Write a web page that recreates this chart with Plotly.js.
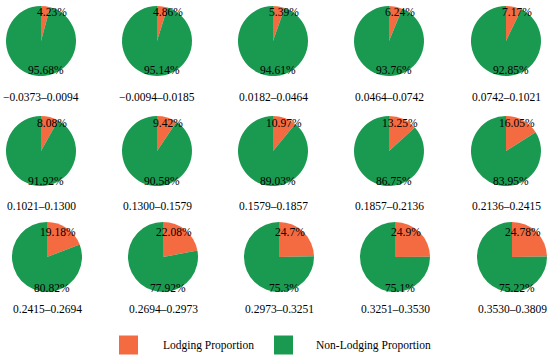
<!DOCTYPE html>
<html>
<head>
<meta charset="utf-8">
<script src="https://cdn.plot.ly/plotly-3.0.1.min.js"></script>
<style>html,body{margin:0;padding:0;background:#fff}#chart{width:550px;height:358px}</style>
</head>
<body>
<div id="chart"></div>
<script>
// ---- data ----
const rangeLabels = [
  "\u22120.0373\u20130.0094", "\u22120.0094\u20130.0185", "0.0182\u20130.0464", "0.0464\u20130.0742", "0.0742\u20130.1021",
  "0.1021\u20130.1300", "0.1300\u20130.1579", "0.1579\u20130.1857", "0.1857\u20130.2136", "0.2136\u20130.2415",
  "0.2415\u20130.2694", "0.2694\u20130.2973", "0.2973\u20130.3251", "0.3251\u20130.3530", "0.3530\u20130.3809"
];
const lodging = [4.23, 4.86, 5.39, 6.24, 7.17, 8.08, 9.42, 10.97, 13.25, 16.05, 19.18, 22.08, 24.7, 24.9, 24.78];
const nonLodging = [95.68, 95.14, 94.61, 93.76, 92.85, 91.92, 90.58, 89.03, 86.75, 83.95, 80.82, 77.92, 75.3, 75.1, 75.22];
const seriesNames = ["Lodging Proportion", "Non-Lodging Proportion"];

// ---- styles / layout constants ----
const W = 550, H = 358, R = 35;
const colors = ["#F46B42", "#1A9A50"];
const font = "Liberation Serif, Times New Roman, serif";
const fs = 11.5;
const rowCY = [41, 151, 257];
const colCX = [[41, 157, 273, 389, 506], [41, 157, 273, 389, 506], [47, 163, 279, 395, 512]];
const labelY = [97, 206, 309];
const topOff = [-29, -28, -25], botOff = [29, 30, 31];

const px = x => x / W;
const py = y => 1 - y / H;

const traces = [];
const annotations = [];
for (let i = 0; i < lodging.length; i++) {
  const r = Math.floor(i / 5), c = i % 5;
  const cx = colCX[r][c], cy = rowCY[r];
  traces.push({
    type: "pie",
    values: [lodging[i], nonLodging[i]],
    labels: seriesNames,
    marker: {colors: colors, line: {width: 0}},
    sort: false,
    direction: "clockwise",
    rotation: 0,
    textinfo: "none",
    hoverinfo: "label+percent",
    showlegend: false,
    domain: {x: [px(cx - R), px(cx + R)], y: [py(cy + R), py(cy - R)]}
  });
  annotations.push({
    x: px(cx + 11), y: py(cy + topOff[r]), xref: "paper", yref: "paper",
    text: lodging[i] + "%", showarrow: false, xanchor: "center", yanchor: "middle",
    font: {family: font, size: fs, color: "#000"}
  });
  annotations.push({
    x: px(cx + 5), y: py(cy + botOff[r]), xref: "paper", yref: "paper",
    text: nonLodging[i] + "%", showarrow: false, xanchor: "center", yanchor: "middle",
    font: {family: font, size: fs, color: "#000"}
  });
  annotations.push({
    x: px(cx), y: py(labelY[r]), xref: "paper", yref: "paper",
    text: rangeLabels[i], showarrow: false, xanchor: "center", yanchor: "middle",
    font: {family: font, size: fs, color: "#000"}
  });
}

// legend drawn with shapes + text
const legX = [119, 274], legTextX = [161, 314], legY = 345, sq = 19;
const shapes = [];
seriesNames.forEach((name, k) => {
  shapes.push({
    type: "rect", xref: "paper", yref: "paper",
    x0: px(legX[k]), x1: px(legX[k] + sq), y0: py(legY + sq / 2), y1: py(legY - sq / 2),
    fillcolor: colors[k], line: {width: 0}
  });
  annotations.push({
    x: px(legTextX[k]), y: py(legY), xref: "paper", yref: "paper",
    text: name, showarrow: false, xanchor: "left", yanchor: "middle",
    font: {family: font, size: fs, color: "#000"}
  });
});

Plotly.newPlot("chart", traces, {
  width: W, height: H,
  margin: {l: 0, r: 0, t: 0, b: 0},
  paper_bgcolor: "#fff",
  showlegend: false,
  annotations: annotations,
  shapes: shapes
}, {staticPlot: true});
</script>
</body>
</html>
